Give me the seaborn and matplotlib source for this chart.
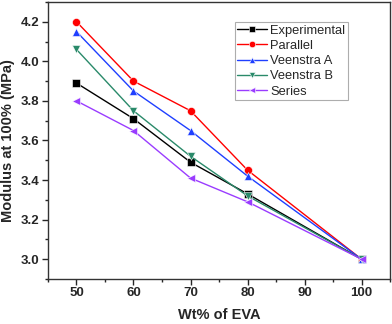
import numpy as np
import pandas as pd
import seaborn as sns
import matplotlib.pyplot as plt
from matplotlib.ticker import MultipleLocator

wt = [50, 60, 70, 80, 100]
experimental = [3.89, 3.71, 3.49, 3.33, 3.0]
parallel = [4.20, 3.90, 3.75, 3.45, 3.0]
veenstra_a = [4.15, 3.85, 3.65, 3.42, 3.0]
veenstra_b = [4.06, 3.75, 3.52, 3.32, 3.0]
series = [3.80, 3.65, 3.41, 3.29, 3.0]

names = ["Experimental", "Parallel", "Veenstra A", "Veenstra B", "Series"]
colors = ["#000000", "#ff0000", "#1f3fff", "#2a8a6a", "#9a3cff"]
markers = ["s", "o", "^", "v", "<"]

df = pd.DataFrame({"wt": wt * 5,
                   "mod": experimental + parallel + veenstra_a + veenstra_b + series,
                   "model": sum([[n] * 5 for n in names], [])})

sns.set_style("ticks")
plt.rcParams['font.family'] = ['Liberation Sans', 'DejaVu Sans']

fig = plt.figure(figsize=(3.92, 3.24), dpi=100)
ax = fig.add_axes([0.1224, 0.139, 0.8726, 0.855])

sns.lineplot(data=df, x="wt", y="mod", hue="model", style="model",
             palette=colors, markers=markers, dashes=False, markersize=5.8,
             markeredgewidth=0.4, linewidth=1, ax=ax, legend=True)

ax.set_xlim(45, 105)
ax.set_ylim(2.9, 4.3)
ax.set_xticks([50, 60, 70, 80, 90, 100])
ax.xaxis.set_minor_locator(MultipleLocator(5))
ax.set_yticks([3.0, 3.2, 3.4, 3.6, 3.8, 4.0, 4.2])
ax.yaxis.set_minor_locator(MultipleLocator(0.1))
ax.tick_params(which="major", length=4, width=1, labelsize=9.5, pad=2)
ax.tick_params(which="minor", length=2.5, width=1)
for lab in ax.get_xticklabels() + ax.get_yticklabels():
    lab.set_fontweight("bold")
for s in ax.spines.values():
    s.set_visible(True)
    s.set_linewidth(1)
    s.set_color("#333333")

ax.set_xlabel("Wt% of EVA", fontsize=10.5, fontweight="bold", labelpad=6)
ax.set_ylabel("Modulus at 100% (MPa)", fontsize=10.5, fontweight="bold", labelpad=4)

leg = ax.legend(loc="upper right", bbox_to_anchor=(0.877, 0.928), fontsize=9.3,
                frameon=True, fancybox=False, edgecolor="#999999",
                handlelength=2.25, borderpad=0.2, labelspacing=0.25,
                handletextpad=0.3, borderaxespad=0, markerscale=0.8)
leg.get_frame().set_linewidth(0.8)

fig.savefig("out.png", dpi=100)
